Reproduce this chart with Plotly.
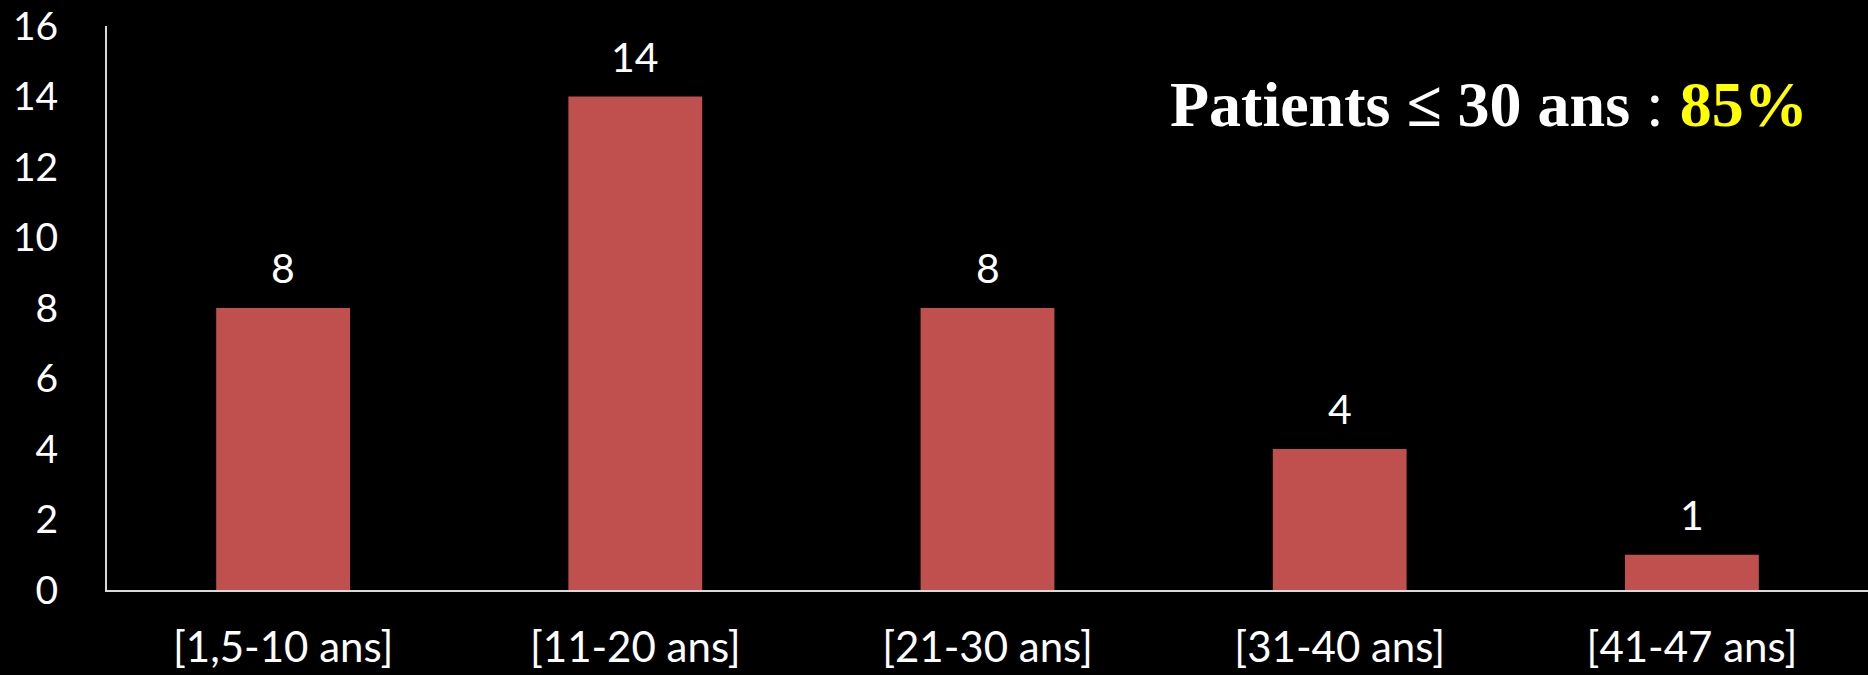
import plotly.graph_objects as go

# Age groups and patient counts
categories = ["[1,5-10 ans]", "[11-20 ans]", "[21-30 ans]", "[31-40 ans]", "[41-47 ans]"]
patients = [8, 14, 8, 4, 1]
y_ticks = [0, 2, 4, 6, 8, 10, 12, 14, 16]

BAR_COLOR = "#C0504D"
TICK_FONT = dict(family="Lato", size=39, color="white")
CAT_FONT = dict(family="Lato", size=42, color="white")
VALUE_FONT = dict(family="Lato", size=41, color="white")

fig = go.Figure(
    go.Bar(
        x=categories,
        y=patients,
        marker=dict(color=BAR_COLOR, line=dict(width=0)),
        hoverinfo="x+y",
    )
)

# value labels above each bar
for cat, val in zip(categories, patients):
    fig.add_annotation(
        x=cat, y=val, text=str(val), showarrow=False,
        xref="x", yref="y", yanchor="bottom", yshift=14,
        font=VALUE_FONT,
    )

fig.add_annotation(
    x=0.785, y=0.86, xref="paper", yref="paper",
    xanchor="center", yanchor="middle", showarrow=False,
    text="<b>Patients ≤ 30 ans</b> : <b><span style='color:#FFFF00'>85%</span></b>",
    font=dict(family="Liberation Serif", size=64, color="white"),
)

fig.update_layout(
    width=1868, height=675,
    margin=dict(l=107, r=0, t=26, b=85),
    paper_bgcolor="black", plot_bgcolor="black",
    bargap=0.62,
    showlegend=False,
    font=TICK_FONT,
)
fig.update_xaxes(
    showgrid=False, zeroline=False, showline=True,
    linecolor="#D9D9D9", linewidth=2, ticks="",
    tickfont=CAT_FONT, ticklabelstandoff=20, automargin=False,
)
fig.update_yaxes(
    range=[0, 16], tickvals=y_ticks, showgrid=False, zeroline=False,
    showline=True, linecolor="#D9D9D9", linewidth=2, ticks="",
    tickfont=TICK_FONT, ticklabelstandoff=39, automargin=False,
)

fig.write_html("out.html")
